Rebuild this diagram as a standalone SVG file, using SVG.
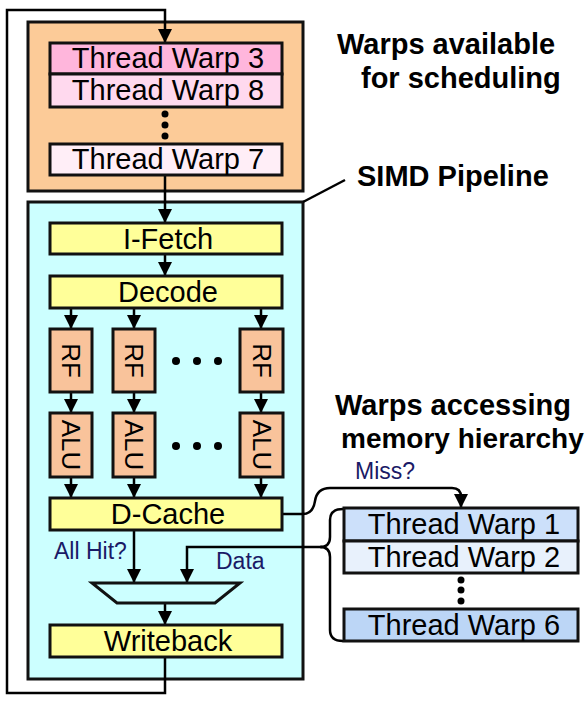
<svg xmlns="http://www.w3.org/2000/svg" width="585" height="701" viewBox="0 0 585 701">
<defs>
<style>
.box{stroke:#111;stroke-width:3}
.t{font-family:"Liberation Sans",Arial,sans-serif;font-size:29px;fill:#000;text-anchor:middle}
.v{font-family:"Liberation Sans",Arial,sans-serif;font-size:26px;fill:#000;text-anchor:middle}
.b{font-family:"Liberation Sans",Arial,sans-serif;font-size:29px;font-weight:bold;fill:#000}
.s{font-family:"Liberation Sans",Arial,sans-serif;font-size:23px;fill:#1a1a66}
.c{fill:none;stroke:#000;stroke-width:2.5}
.y{fill:#ffff99}
.rf{fill:#f9c39b}
</style>
<marker id="ah" viewBox="0 0 14 14" markerWidth="14" markerHeight="14" refX="14" refY="7" orient="auto" markerUnits="userSpaceOnUse">
<path d="M0,0 L14,7 L0,14 z" fill="#000"/>
</marker>
</defs>
<rect width="585" height="701" fill="#fff"/>

<g id="available">
<rect class="box" x="28" y="22" width="275" height="169" fill="#fccb98"/>
</g>
<g id="pipeline">
<rect class="box" x="28" y="202" width="275" height="477" fill="#ccffff"/>
</g>

<g id="connectors">
<path class="c" d="M165,657 V693 H7 V10 H165 V43" marker-end="url(#ah)"/>
<path class="c" d="M165,175 V223" marker-end="url(#ah)"/>
<path class="c" d="M165,254 V276" marker-end="url(#ah)"/>
<path class="c" d="M71,308 V329" marker-end="url(#ah)"/>
<path class="c" d="M134,308 V329" marker-end="url(#ah)"/>
<path class="c" d="M261,308 V329" marker-end="url(#ah)"/>
<path class="c" d="M71,392 V413" marker-end="url(#ah)"/>
<path class="c" d="M134,392 V413" marker-end="url(#ah)"/>
<path class="c" d="M261,392 V413" marker-end="url(#ah)"/>
<path class="c" d="M71,477 V498" marker-end="url(#ah)"/>
<path class="c" d="M134,477 V498" marker-end="url(#ah)"/>
<path class="c" d="M261,477 V498" marker-end="url(#ah)"/>
<path class="c" d="M134,530 V583" marker-end="url(#ah)"/>
<path class="c" d="M322,547 H187 V583" marker-end="url(#ah)"/>
<path class="c" d="M165,604 V625" marker-end="url(#ah)"/>
<path class="c" d="M282,514 H303 Q313,514 315,501 Q317,488 330,488 H452 Q461,488 461,497 V508" marker-end="url(#ah)"/>
<path class="c" d="M343,509 Q330,509 330,520 V537 Q330,547 320,547 Q330,547 330,557 V630 Q330,641 343,641"/>
<path class="c" d="M303,202 L345,180"/>
</g>

<g id="tw3"><rect class="box" x="50" y="43" width="232" height="31" fill="#ffb6dc"/><text class="t" x="168" y="68">Thread Warp 3</text></g>
<g id="tw8"><rect class="box" x="50" y="74" width="232" height="33" fill="#ffd9ee"/><text class="t" x="168" y="100">Thread Warp 8</text></g>
<g id="dots1" fill="#000"><circle cx="165" cy="114" r="3.5"/><circle cx="165" cy="125" r="3.5"/><circle cx="165" cy="136" r="3.5"/></g>
<g id="tw7"><rect class="box" x="50" y="144" width="232" height="31" fill="#ffeef7"/><text class="t" x="168" y="169">Thread Warp 7</text></g>

<g id="ifetch"><rect class="box y" x="50" y="223" width="232" height="31"/><text class="t" x="168" y="249">I-Fetch</text></g>
<g id="decode"><rect class="box y" x="50" y="276" width="232" height="32"/><text class="t" x="168" y="302">Decode</text></g>

<g id="rf1"><rect class="box rf" x="50" y="329" width="42" height="63"/><text class="v" transform="translate(71,360.5) rotate(90)" x="0" y="9">RF</text></g>
<g id="rf2"><rect class="box rf" x="113" y="329" width="42" height="63"/><text class="v" transform="translate(134,360.5) rotate(90)" x="0" y="9">RF</text></g>
<g id="rf3"><rect class="box rf" x="240" y="329" width="43" height="63"/><text class="v" transform="translate(261.5,360.5) rotate(90)" x="0" y="9">RF</text></g>
<g id="dots2" fill="#000"><circle cx="176" cy="361" r="4"/><circle cx="197" cy="361" r="4"/><circle cx="218" cy="361" r="4"/></g>

<g id="alu1"><rect class="box rf" x="50" y="413" width="42" height="64"/><text class="v" transform="translate(71,445) rotate(90)" x="0" y="9">ALU</text></g>
<g id="alu2"><rect class="box rf" x="113" y="413" width="42" height="64"/><text class="v" transform="translate(134,445) rotate(90)" x="0" y="9">ALU</text></g>
<g id="alu3"><rect class="box rf" x="240" y="413" width="43" height="64"/><text class="v" transform="translate(261.5,445) rotate(90)" x="0" y="9">ALU</text></g>
<g id="dots3" fill="#000"><circle cx="176" cy="446" r="4"/><circle cx="197" cy="446" r="4"/><circle cx="218" cy="446" r="4"/></g>

<g id="dcache"><rect class="box y" x="50" y="498" width="232" height="32"/><text class="t" x="168" y="524">D-Cache</text></g>
<g id="mux"><path d="M92,583 H240 L215,603 H117 Z" fill="none" stroke="#111" stroke-width="3"/></g>
<g id="writeback"><rect class="box y" x="50" y="625" width="232" height="32"/><text class="t" x="168" y="651">Writeback</text></g>

<g id="tw1"><rect class="box" x="344" y="508" width="234" height="33" fill="#cce0fa"/><text class="t" x="464" y="534">Thread Warp 1</text></g>
<g id="tw2"><rect class="box" x="344" y="541" width="234" height="32" fill="#e8f1fc"/><text class="t" x="464" y="567">Thread Warp 2</text></g>
<g id="dots4" fill="#000"><circle cx="461" cy="580" r="3.5"/><circle cx="461" cy="590" r="3.5"/><circle cx="461" cy="601" r="3.5"/></g>
<g id="tw6"><rect class="box" x="344" y="609" width="234" height="32" fill="#bcd6f6"/><text class="t" x="464" y="635">Thread Warp 6</text></g>

<g id="labels">
<text class="b" x="337" y="54">Warps available</text>
<text class="b" x="361" y="88">for scheduling</text>
<text class="b" x="357" y="186">SIMD Pipeline</text>
<text class="b" x="335" y="415">Warps accessing</text>
<text class="b" x="341" y="448" style="font-size:28px">memory hierarchy</text>
<text class="s" x="355" y="479">Miss?</text>
<text class="s" x="54" y="559">All Hit?</text>
<text class="s" x="216" y="569">Data</text>
</g>
</svg>
